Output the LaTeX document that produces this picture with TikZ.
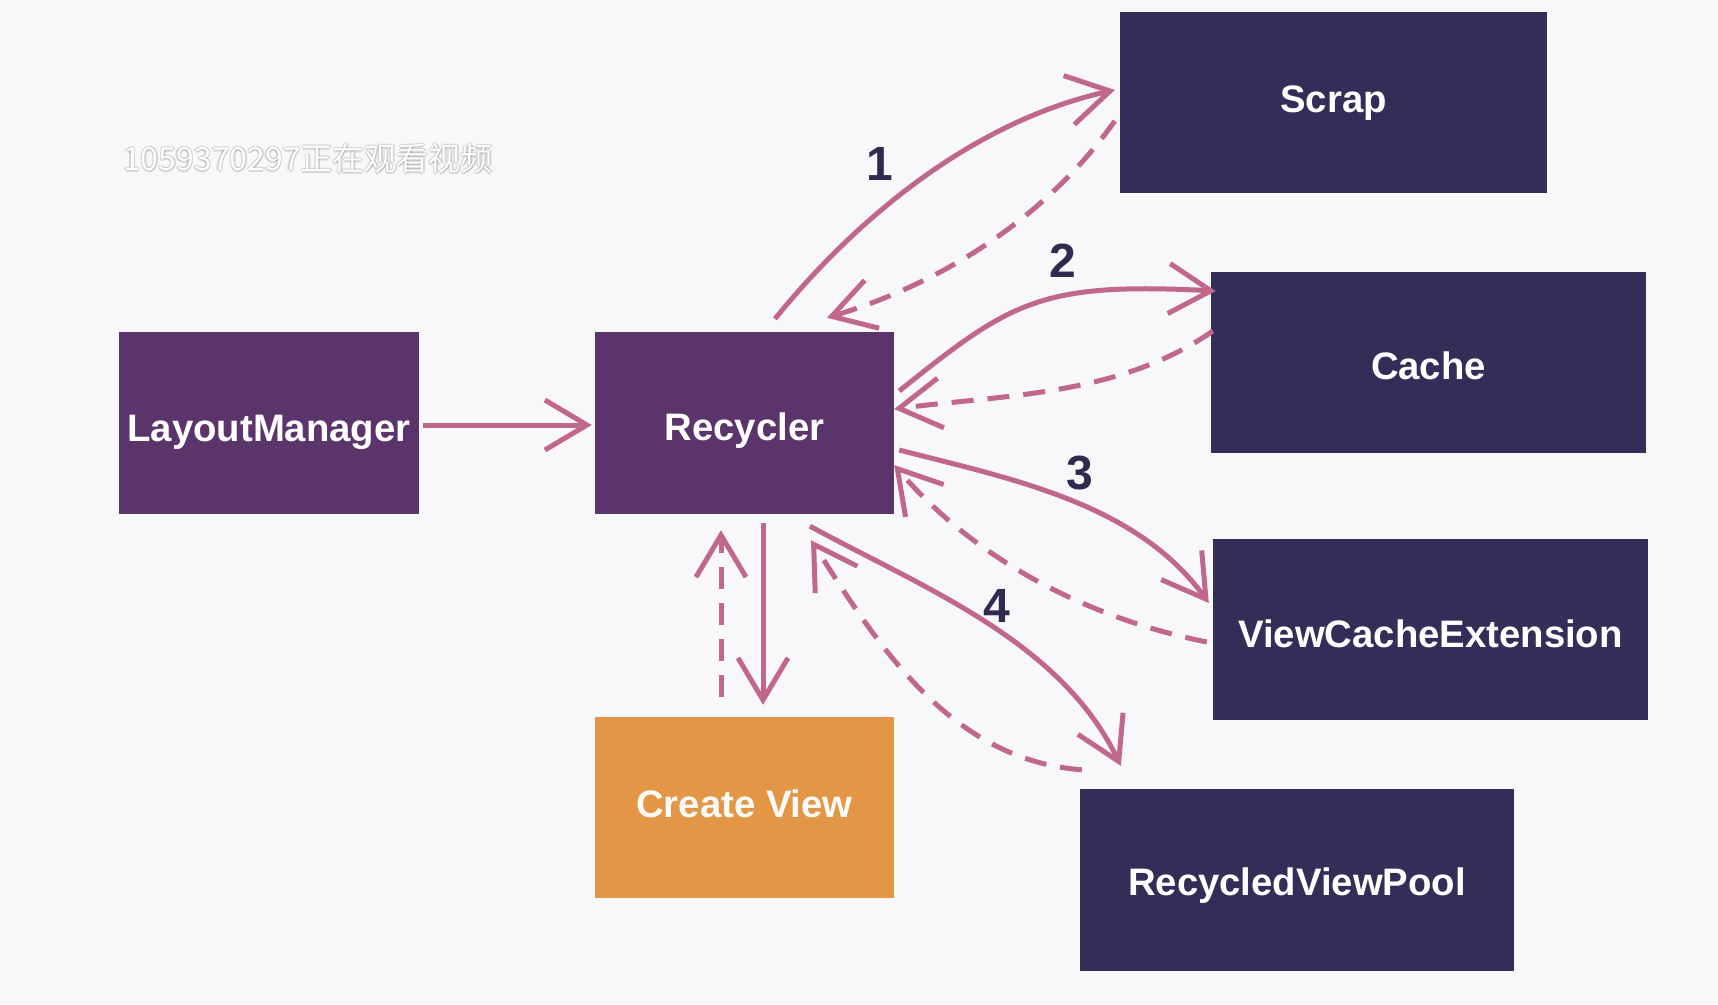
\documentclass[tikz,border=0pt]{standalone}
\usepackage{fontspec}
\setmainfont{Liberation Sans}
\newfontfamily\cjkfont{Noto Sans CJK SC}
\usetikzlibrary{arrows.meta}

\definecolor{bgcol}{HTML}{F8F7FA}
\definecolor{mgrcol}{HTML}{5C346C}
\definecolor{storecol}{HTML}{322E58}
\definecolor{createcol}{HTML}{E39746}
\definecolor{linkcol}{HTML}{C0678C}
\definecolor{numcol}{HTML}{2E2A50}

\newcommand\boxtextfont{\fontsize{38.3}{44}\selectfont\bfseries}
\newcommand\stepnumfont{\fontsize{48}{56}\selectfont\bfseries}
\newcommand\viewerfont{\cjkfont\fontsize{32}{38}\selectfont}

\tikzset{
  block/.style={inner sep=0pt, text=white, font=\boxtextfont},
  mgrbox/.style={block, fill=mgrcol, minimum width=300pt, minimum height=182pt},
  storebox/.style={block, fill=storecol, minimum width=435pt, minimum height=181pt},
  createbox/.style={block, fill=createcol, text=white!97!orange, minimum width=299pt, minimum height=181pt},
  % box label, lowered (positive) or raised (negative) inside its box
  boxlabel/.style={inner sep=0pt, text=white, font=\boxtextfont, yshift=-#1},
  flow/.style={draw=linkcol, line width=5pt,
    -{Straight Barb[length=42pt,width=50pt,line width=5pt]}},
  back/.style={flow, dash pattern=on 22pt off 14pt},
  stepnum/.style={text=numcol, font=\stepnumfont, inner sep=0pt},
  viewer/.style={font=\viewerfont, inner sep=0pt},
}

\begin{document}
\begin{tikzpicture}[x=1pt, y=-1pt]
  % canvas
  \fill[bgcol] (0,0) rectangle (1718,1004);
  \useasboundingbox (0,0) rectangle (1718,1004);

  % boxes
  \node[mgrbox] (lm) at (269,423) {};
  \node[mgrbox, minimum width=299pt] (rec) at (744.5,423) {};
  \node[createbox] (cv) at (744.5,807.5) {};
  \node[storebox, minimum width=427pt] (scrap) at (1333.5,102.5) {};
  \node[storebox] (cache) at (1428.5,362.5) {};
  \node[storebox] (vce) at (1430.5,629.5) {};
  \node[storebox, minimum width=434pt, minimum height=182pt] (rvp) at (1297,880) {};

  % box labels
  \node[boxlabel=9pt] (lmtext) at (lm.center) {LayoutManager};
  \node[boxlabel=8pt] (rectext) at (rec.center) {Recycler};
  \node[boxlabel=-4pt, text=white!97!orange] (cvtext) at (cv.center) {Create View};
  \node[boxlabel=1pt] (scraptext) at (scrap.center) {Scrap};
  \node[boxlabel=3pt] (cachetext) at (cache.center) {Cache};
  \node[boxlabel=4pt] (vcetext) at (vce.center) {ViewCacheExtension};
  \node[boxlabel=6pt] (rvptext) at (rvp.center) {RecycledViewPool};

  % viewer caption with a soft shadow
  \coordinate (wmpos) at (308,158);
  \foreach \dx/\dy in {-1.5/0.5,1.5/0.5,0/-1,0/2.5}
    \node[viewer, text=black, opacity=0.13] at ([shift={(\dx,\dy)}]wmpos) {1059370297正在观看视频};
  \node[viewer, text=white] (wm) at (wmpos) {1059370297正在观看视频};

  % layout manager hands over to the recycler
  \draw[flow] ([shift={(4,2)}]lm.east) -- ([shift={(-3,2)}]rec.west);

  % 1: scrap
  \draw[flow] ([shift={(30.5,-13)}]rec.north) .. controls +(86,-106) and +(-137,30) .. ([shift={(-5,-12.5)}]scrap.west);
  \draw[back] ([shift={(-5,18.5)}]scrap.west) .. controls +(-69,97) and +(116,-35) .. ([shift={(82.5,-14)}]rec.north);

  % 2: cache
  \draw[flow] ([shift={(5,-32)}]rec.east) .. controls +(112,-90) and +(-175,-9) .. ([shift={(5,-71.5)}]cache.west);
  \draw[back] ([shift={(2,-31.5)}]cache.west) .. controls +(-93,65) and +(108,-14) .. ([shift={(0,-14)}]rec.east);

  % 3: view cache extension
  \draw[flow] ([shift={(5,27)}]rec.east) .. controls +(112,29) and +(-72,-100) .. ([shift={(-4,-26.5)}]vce.west);
  \draw[back] ([shift={(-6,12.5)}]vce.west) .. controls +(-120,-24) and +(80,94) .. ([shift={(0,42)}]rec.east);

  % 4: recycled view pool
  \draw[flow] ([shift={(65.5,12)}]rec.south) .. controls +(114,62) and +(-60,-125) .. ([shift={(41,-23)}]rvp.north west);
  \draw[back] ([shift={(2,-19)}]rvp.north west) .. controls +(-134,-10) and +(64,100) .. ([shift={(66.5,26)}]rec.south);

  % create view
  \draw[flow] ([shift={(18.5,9)}]rec.south) -- ([shift={(18.5,-12)}]cv.north);
  \draw[back] ([shift={(-23.5,-20)}]cv.north) -- ([shift={(-23.5,16)}]rec.south);

  % step numbers
  \node[stepnum] (n1) at (880,164) {1};
  \node[stepnum] (n2) at (1063,261) {2};
  \node[stepnum] (n3) at (1080,473) {3};
  \node[stepnum] (n4) at (997,606) {4};
\end{tikzpicture}
\end{document}
